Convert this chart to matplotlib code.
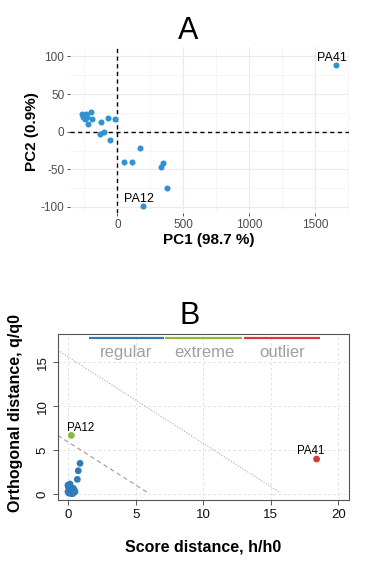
import matplotlib
import matplotlib.pyplot as plt
from matplotlib.ticker import MultipleLocator

matplotlib.use("Agg")
plt.rcParams["font.family"] = ["Liberation Sans", "DejaVu Sans"]
plt.rcParams["axes.unicode_minus"] = False

# Panel A: PCA scores
pc1 = [-270, -237, -227, -245, -220, -200, -190, -258, -121, -73, -17, -131, -99, -55,
       175, 53, 114, 332, 344, 375, 197, 1659]
pc2 = [23.5, 23.5, 20, 16.5, 9.8, 26, 16.6, 20, 12.4, 18.6, 16.8, -3.5, -0.9, -11,
       -21.6, -40, -40, -47.3, -42, -75, -98.7, 89]
names_a = {20: "PA12", 21: "PA41"}

# Panel B: distance plot (score distance h/h0, orthogonal distance q/q0)
h = [0.89, 0.76, 0.69, 0.15, 0.0, 0.02, 0.39, 0.15, 0.0, 0.27, 0.52, 0.07, 0.46, 0.3,
     0.2, 0.1, 0.35, 0.05, 0.25, 0.42, 0.25, 18.38]
q = [3.49, 2.65, 1.67, 1.14, 1.02, 0.83, 0.65, 0.45, 0.26, 0.15, 0.26, 0.1, 0.45, 0.35,
     0.55, 0.6, 0.05, 0.3, 0.05, 0.2, 6.67, 3.98]
groups = ["regular"] * 20 + ["extreme", "outlier"]
names_b = {20: "PA12", 21: "PA41"}
group_names = ["regular", "extreme", "outlier"]
group_colors = {"regular": "#2f7cb9", "extreme": "#8db83c", "outlier": "#d8383a"}
extreme_x, extreme_y = [-0.76, 5.9], [6.67, 0.15]
outlier_x, outlier_y = [-0.76, 15.7], [16.36, 0.15]

fig = plt.figure(figsize=(3.75, 5.61), dpi=100)

# ---------- A ----------
ax1 = fig.add_axes([0.1864, 0.6203, 0.7432, 0.2966])
ax1.set_xlim(-360, 1755)
ax1.set_ylim(-108, 113)
ax1.xaxis.set_major_locator(MultipleLocator(500))
ax1.xaxis.set_minor_locator(MultipleLocator(250))
ax1.yaxis.set_major_locator(MultipleLocator(50))
ax1.yaxis.set_minor_locator(MultipleLocator(25))
ax1.grid(which="major", color="#EBEBEB", linewidth=0.9)
ax1.grid(which="minor", color="#F4F4F4", linewidth=0.6)
ax1.set_axisbelow(True)
for s in ax1.spines.values():
    s.set_visible(False)
ax1.tick_params(which="major", length=2.5, width=0.6, color="#333333",
                labelcolor="#4D4D4D", labelsize=8.5, pad=1.5)
ax1.tick_params(which="minor", length=0)
ax1.axhline(0, color="black", linestyle=(0, (3, 2.5)), linewidth=1)
ax1.axvline(0, color="black", linestyle=(0, (3, 2.5)), linewidth=1)
ax1.scatter(pc1, pc2, s=19, color="#3191d2", zorder=3, linewidths=0)
for i, name in names_a.items():
    ax1.annotate(name, (pc1[i], pc2[i]), xytext=(-3, 5), textcoords="offset points",
                 ha="center", va="center", fontsize=9, color="black")
ax1.set_xlabel("PC1 (98.7 %)", fontsize=11, fontweight="bold")
ax1.set_ylabel("PC2 (0.9%)", fontsize=11, fontweight="bold")
ax1.xaxis.set_label_coords(0.499, -0.162)
ax1.xaxis.label.set_va("center")
ax1.yaxis.set_label_coords(-0.137, 0.489)
ax1.yaxis.label.set_va("center")
fig.text(187.7 / 375, 1 - 31 / 561, "A", fontsize=22, ha="center", va="center")

# ---------- B ----------
ax2 = fig.add_axes([0.1539, 0.1087, 0.7776, 0.2959])
ax2.set_xlim(-0.76, 20.8)
ax2.set_ylim(-0.68, 18.2)
ax2.set_xticks([0, 5, 10, 15, 20])
ax2.set_yticks([0, 5, 10, 15])
ax2.grid(color="#DDDDDD", linestyle=(0, (3, 3)), linewidth=0.6)
ax2.set_axisbelow(True)
for s in ax2.spines.values():
    s.set_color("#555555")
    s.set_linewidth(0.8)
ax2.tick_params(length=3.5, width=0.7, color="#555555", labelcolor="#111111",
                labelsize=9.5, pad=3)
for lab in ax2.get_yticklabels():
    lab.set_rotation(90)
    lab.set_va("center")
ax2.plot(extreme_x, extreme_y, color="#9a9a9a", linestyle=(0, (4, 3)), linewidth=0.8)
ax2.plot(outlier_x, outlier_y, color="#aaaaaa", linestyle=(0, (1, 1.5)), linewidth=0.8)
ax2.scatter(h, q, s=24, color=[group_colors[g] for g in groups], zorder=3, linewidths=0)
ax2.annotate(names_b[20], (h[20], q[20]), xytext=(7, 5.5), textcoords="offset points",
             ha="center", va="center", fontsize=8.3)
ax2.annotate(names_b[21], (h[21], q[21]), xytext=(-4, 5.5), textcoords="offset points",
             ha="center", va="center", fontsize=8.3)

# legend bars on top
bar_edges = [1.5, 7.15, 12.95, 18.7]
for k, g in enumerate(group_names):
    x0, x1 = bar_edges[k] + 0.05, bar_edges[k + 1] - 0.05
    ax2.plot([x0, x1], [17.7, 17.7], color=group_colors[g], linewidth=1.6,
             solid_capstyle="butt")
    ax2.text((x0 + x1) / 2, 16.15, g, color="#A0A0A0", fontsize=12,
             ha="center", va="center")

ax2.set_xlabel("Score distance, h/h0", fontsize=11.5, fontweight="bold")
ax2.set_ylabel("Orthogonal distance, q/q0", fontsize=11.5, fontweight="bold")
ax2.xaxis.set_label_coords(0.497, -0.281)
ax2.xaxis.label.set_va("center")
ax2.yaxis.set_label_coords(-0.144, 0.524)
ax2.yaxis.label.set_va("center")
fig.text(190 / 375, 1 - 315.7 / 561, "B", fontsize=22, ha="center", va="center")

plt.savefig("out.png", dpi=100)
plt.close()
